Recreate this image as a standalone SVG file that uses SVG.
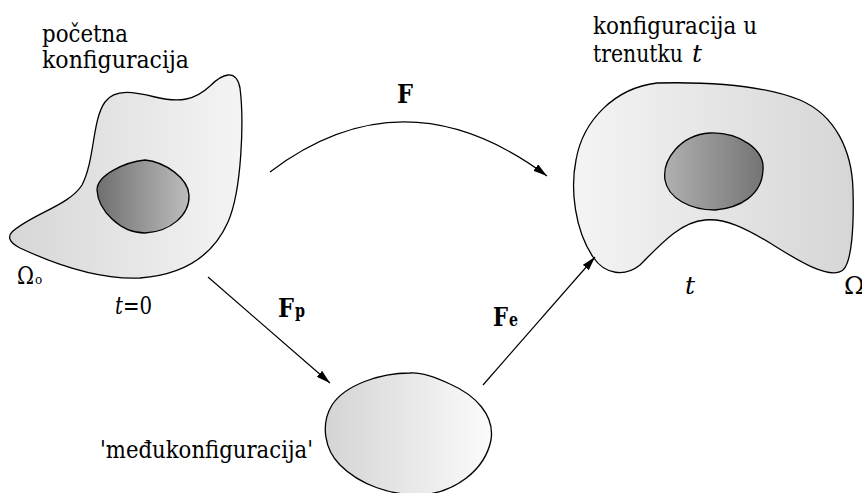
<svg xmlns="http://www.w3.org/2000/svg" width="862" height="493" viewBox="0 0 862 493">
<style>
text{font-family:'DejaVu Serif','Liberation Serif',serif;font-size:25px;fill:#000}
.b{font-weight:bold;font-size:26px}
.s{font-weight:bold;font-size:18px}
.o{font-size:12px}
.i{font-style:italic}
.blob{stroke:#000;stroke-width:1.3}
.arr{fill:none;stroke:#000;stroke-width:1.2}
</style>
<defs>
<linearGradient id="gOuterL" x1="0" y1="0" x2="1" y2="0"><stop offset="0" stop-color="#d6d6d6"/><stop offset="1" stop-color="#f4f4f4"/></linearGradient>
<linearGradient id="gInnerL" x1="0" y1="0" x2="1" y2="0"><stop offset="0" stop-color="#6f6f6f"/><stop offset="1" stop-color="#bdbdbd"/></linearGradient>
<linearGradient id="gOuterR" x1="0" y1="0" x2="1" y2="0"><stop offset="0" stop-color="#f4f4f4"/><stop offset="1" stop-color="#d6d6d6"/></linearGradient>
<linearGradient id="gInnerR" x1="0" y1="0" x2="1" y2="0"><stop offset="0" stop-color="#b0b0b0"/><stop offset="1" stop-color="#747474"/></linearGradient>
<linearGradient id="gMid" x1="0" y1="0" x2="1" y2="0"><stop offset="0" stop-color="#d4d4d4"/><stop offset="1" stop-color="#fbfbfb"/></linearGradient>
<marker id="ah" markerUnits="userSpaceOnUse" markerWidth="16" markerHeight="8" refX="14" refY="4" orient="auto"><path d="M0,0 L14,4 L0,8 Z" fill="#000"/></marker>
</defs>

<g id="initial">
<path class="blob" fill="url(#gOuterL)" d="M12,232 C30,215 70,205 82,185 C95,160 92,120 105,102 C115,88 135,92 155,97 C180,103 195,100 210,86 C222,74 236,68 240,88 C244,120 242,190 228,222 C212,258 180,275 140,278 C95,280 50,262 20,248 C8,242 8,236 12,232 Z"/>
<path class="blob" fill="url(#gInnerL)" d="M97,190 C97,175 125,162 145,160 C165,162 188,178 189,195 C190,215 170,232 145,233 C120,233 98,210 97,190 Z"/>
<text x="42" y="42" textLength="86" lengthAdjust="spacingAndGlyphs">početna</text>
<text x="42" y="68" textLength="147" lengthAdjust="spacingAndGlyphs">konfiguracija</text>
<text x="17" y="284" textLength="17" lengthAdjust="spacingAndGlyphs">Ω</text>
<text class="o" x="35" y="284">o</text>
<text x="115" y="314" textLength="37" lengthAdjust="spacingAndGlyphs"><tspan class="i">t</tspan>=0</text>
</g>

<g id="current">
<path class="blob" fill="url(#gOuterR)" d="M657,83 C700,82 760,84 800,100 C835,115 852,150 853,190 C854,225 852,262 843,270 C830,280 800,262 770,243 C745,228 725,218 705,220 C680,222 660,245 640,265 C625,277 605,275 593,257 C575,230 570,190 576,160 C583,120 615,88 657,83 Z"/>
<path class="blob" fill="url(#gInnerR)" d="M665,180 C662,160 680,135 710,133 C740,132 765,150 763,170 C762,195 740,208 715,210 C690,210 668,198 665,180 Z"/>
<text x="593" y="34" textLength="164" lengthAdjust="spacingAndGlyphs">konfiguracija u</text>
<text x="593" y="62" textLength="90" lengthAdjust="spacingAndGlyphs">trenutku</text>
<text class="i" x="692" y="62">t</text>
<text class="i" x="685" y="294">t</text>
<text x="844" y="294">Ω</text>
</g>

<g id="intermediate">
<path class="blob" fill="url(#gMid)" d="M410,373 C380,373 345,385 332,405 C320,425 325,450 340,465 C360,485 390,495 420,495 C455,493 485,470 491,440 C495,415 475,395 450,384 C435,377 420,372 410,373 Z"/>
<text x="100" y="458" textLength="213" lengthAdjust="spacingAndGlyphs">'međukonfiguracija'</text>
</g>

<g id="connectors">
<path class="arr" stroke-width="0.9" stroke="#333" d="M270,172 Q405,70 547,176" marker-end="url(#ah)"/>
<line class="arr" x1="208" y1="277" x2="330" y2="383" marker-end="url(#ah)"/>
<line class="arr" x1="483" y1="385" x2="595" y2="257" marker-end="url(#ah)"/>
<text class="b" x="397" y="103" textLength="16" lengthAdjust="spacingAndGlyphs">F</text>
<text class="b" x="278" y="317" textLength="16" lengthAdjust="spacingAndGlyphs">F</text>
<text class="s" x="295" y="317" textLength="10" lengthAdjust="spacingAndGlyphs">p</text>
<text class="b" x="493" y="326" textLength="15" lengthAdjust="spacingAndGlyphs">F</text>
<text class="s" x="509" y="326" textLength="9" lengthAdjust="spacingAndGlyphs">e</text>
</g>
</svg>
